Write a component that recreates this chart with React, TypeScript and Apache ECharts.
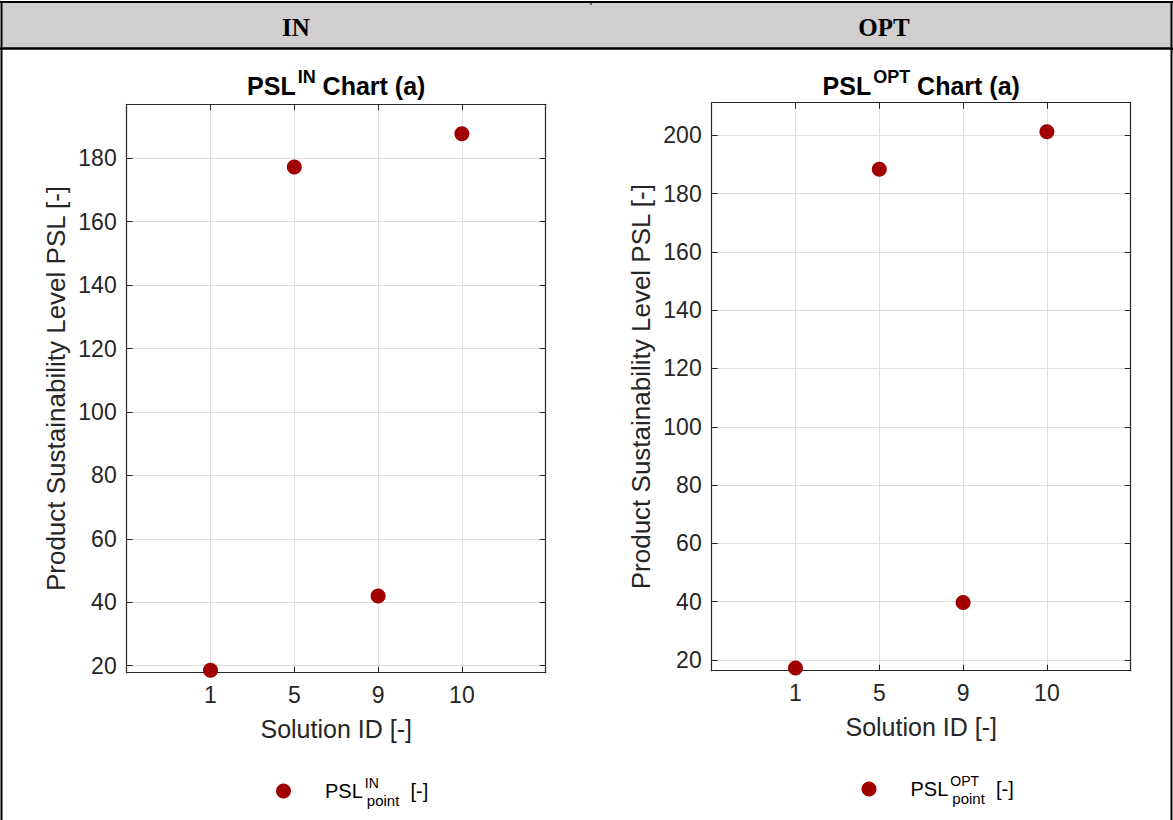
import React, { useEffect, useRef } from 'react';
import * as echarts from 'echarts';

// Solution IDs on the x axis and the PSL value of each solution
const solutionIds = ['1', '5', '9', '10'];
const pslIn = [18.6, 177.2, 42.0, 187.7];
const pslOpt = [17.2, 188.4, 39.7, 201.2];

// y tick labels and visible y ranges of the two panels
const yTicksIn = [20, 40, 60, 80, 100, 120, 140, 160, 180];
const yTicksOpt = [20, 40, 60, 80, 100, 120, 140, 160, 180, 200];
const yRangeIn = [17.8, 197.0];
const yRangeOpt = [16.3, 211.2];

// categorical positions 1..4 inside an x range of 0..5
const xPositions = solutionIds.map((_, i) => i + 1);

const FONT = '"Liberation Sans", Arial, Helvetica, sans-serif';
const SERIF = '"Liberation Serif", "Times New Roman", serif';
const AXIS_COLOR = '#262626';
const GRID_COLOR = '#dfdfdf';
const MARK_COLOR = '#a00000';

const panels = [
  {
    name: 'PSL_IN',
    header: 'IN',
    headerX: 296,
    sup: 'IN',
    values: pslIn,
    yTicks: yTicksIn,
    yRange: yRangeIn,
    grid: { left: 126.7, top: 104.3, width: 419, height: 568.4 },
    legendPos: { left: 276, top: 776 },
  },
  {
    name: 'PSL_OPT',
    header: 'OPT',
    headerX: 884,
    sup: 'OPT',
    values: pslOpt,
    yTicks: yTicksOpt,
    yRange: yRangeOpt,
    grid: { left: 711.7, top: 102.7, width: 419, height: 568 },
    legendPos: { left: 861.5, top: 774 },
  },
];

function buildOption() {
  const grids: any[] = [];
  const xAxes: any[] = [];
  const yAxes: any[] = [];
  const series: any[] = [];
  const legends: any[] = [];
  const graphics: any[] = [];

  const axisLine = { show: true, onZero: false, lineStyle: { color: AXIS_COLOR, width: 1.2 } };

  panels.forEach((p, i) => {
    grids.push({ ...p.grid, containLabel: false, show: false });

    // bottom x axis with labels, and a mirrored top axis with ticks only
    xAxes.push({
      gridIndex: i,
      type: 'value',
      min: 0,
      max: 5,
      position: 'bottom',
      axisLine,
      axisTick: { show: true, inside: true, length: 6, customValues: xPositions, lineStyle: { color: AXIS_COLOR } },
      axisLabel: {
        customValues: xPositions,
        formatter: (v: number) => solutionIds[Math.round(v) - 1] ?? '',
        fontSize: 23,
        fontFamily: FONT,
        color: AXIS_COLOR,
        margin: 11,
      },
      splitLine: { show: true, lineStyle: { color: GRID_COLOR, width: 1 } },
      name: 'Solution ID [-]',
      nameLocation: 'middle',
      nameGap: 44,
      nameTextStyle: { fontSize: 25, fontFamily: FONT, color: AXIS_COLOR },
    });
    xAxes.push({
      gridIndex: i,
      type: 'value',
      min: 0,
      max: 5,
      position: 'top',
      axisLine,
      axisTick: { show: true, inside: true, length: 6, customValues: xPositions, lineStyle: { color: AXIS_COLOR } },
      axisLabel: { show: false },
      splitLine: { show: false },
    });

    // left y axis with labels, and a mirrored right axis with ticks only
    yAxes.push({
      gridIndex: i,
      type: 'value',
      min: p.yRange[0],
      max: p.yRange[1],
      position: 'left',
      axisLine,
      axisTick: { show: true, inside: true, length: 6, customValues: p.yTicks, lineStyle: { color: AXIS_COLOR } },
      axisLabel: { customValues: p.yTicks, fontSize: 23, fontFamily: FONT, color: AXIS_COLOR, margin: 10 },
      splitLine: { show: true, lineStyle: { color: GRID_COLOR, width: 1 } },
      name: 'Product Sustainability Level PSL [-]',
      nameLocation: 'middle',
      nameGap: 58,
      nameRotate: 90,
      nameTextStyle: { fontSize: 26, fontFamily: FONT, color: AXIS_COLOR },
    });
    yAxes.push({
      gridIndex: i,
      type: 'value',
      min: p.yRange[0],
      max: p.yRange[1],
      position: 'right',
      axisLine,
      axisTick: { show: true, inside: true, length: 6, customValues: p.yTicks, lineStyle: { color: AXIS_COLOR } },
      axisLabel: { show: false },
      splitLine: { show: false },
    });

    series.push({
      name: p.name,
      type: 'scatter',
      xAxisIndex: i * 2,
      yAxisIndex: i * 2,
      symbol: 'circle',
      symbolSize: 15,
      itemStyle: { color: MARK_COLOR, opacity: 1 },
      data: p.values.map((v, j) => [xPositions[j], v]),
      z: 5,
    });

    legends.push({
      data: [p.name],
      left: p.legendPos.left,
      top: p.legendPos.top,
      padding: 0,
      itemWidth: 15,
      itemHeight: 15,
      icon: 'circle',
      selectedMode: false,
      formatter: () => `{g| }{m|PSL}{s|${p.sup}}{p|point}{m|  [-]}`,
      textStyle: {
        fontFamily: FONT,
        color: '#000',
        rich: {
          g: { width: 29, fontSize: 20, fontFamily: FONT },
          m: { fontSize: 20, fontFamily: FONT, color: '#000' },
          s: { fontSize: 14, fontFamily: FONT, color: '#000', width: 0, padding: [0, 0, 16, 2] },
          p: { fontSize: 15, fontFamily: FONT, color: '#000', padding: [18, 0, 0, 2] },
        },
      },
    });

    // panel title with a superscript
    const gx = p.grid.left + p.grid.width / 2;
    graphics.push({
      type: 'text',
      x: gx,
      y: 86,
      z: 10,
      style: {
        text: `{b|PSL}{s|${p.sup}}{b| Chart (a)}`,
        align: 'center',
        verticalAlign: 'middle',
        rich: {
          b: { fontSize: 25, fontWeight: 'bold', fontFamily: FONT, fill: '#000' },
          s: { fontSize: 18, fontWeight: 'bold', fontFamily: FONT, fill: '#000', padding: [0, 0, 18, 2] },
        },
      },
    });

    // table header text
    graphics.push({
      type: 'text',
      x: p.headerX,
      y: 27,
      z: 10,
      style: {
        text: p.header,
        align: 'center',
        verticalAlign: 'middle',
        fontSize: 25,
        fontWeight: 'bold',
        fontFamily: SERIF,
        fill: '#000',
      },
    });
  });

  // table frame: shaded header row and borders
  graphics.unshift(
    { type: 'rect', z: 1, shape: { x: 2, y: 3, width: 1169, height: 45 }, style: { fill: '#d0cece' } },
    { type: 'line', z: 2, shape: { x1: 0, y1: 2, x2: 1173, y2: 2 }, style: { stroke: '#000', lineWidth: 2 } },
    { type: 'line', z: 2, shape: { x1: 0, y1: 48.5, x2: 1173, y2: 48.5 }, style: { stroke: '#000', lineWidth: 2.5 } },
    { type: 'line', z: 2, shape: { x1: 1.5, y1: 1, x2: 1.5, y2: 820 }, style: { stroke: '#000', lineWidth: 2 } },
    { type: 'line', z: 2, shape: { x1: 1171.5, y1: 1, x2: 1171.5, y2: 820 }, style: { stroke: '#000', lineWidth: 2 } },
    { type: 'line', z: 2, shape: { x1: 591, y1: 1, x2: 591, y2: 5 }, style: { stroke: '#000', lineWidth: 1 } },
  );

  return {
    animation: false,
    backgroundColor: '#ffffff',
    textStyle: { fontFamily: FONT },
    grid: grids,
    xAxis: xAxes,
    yAxis: yAxes,
    legend: legends,
    series,
    graphic: graphics,
  };
}

export default function App() {
  const ref = useRef<HTMLDivElement>(null);

  useEffect(() => {
    if (!ref.current) return;
    const chart = echarts.init(ref.current, undefined, { renderer: 'svg' });
    chart.setOption(buildOption());
    return () => chart.dispose();
  }, []);

  return (
    <div
      ref={ref}
      style={{ position: 'fixed', left: 0, top: 0, width: 1173, height: 820, background: '#fff' }}
    />
  );
}
